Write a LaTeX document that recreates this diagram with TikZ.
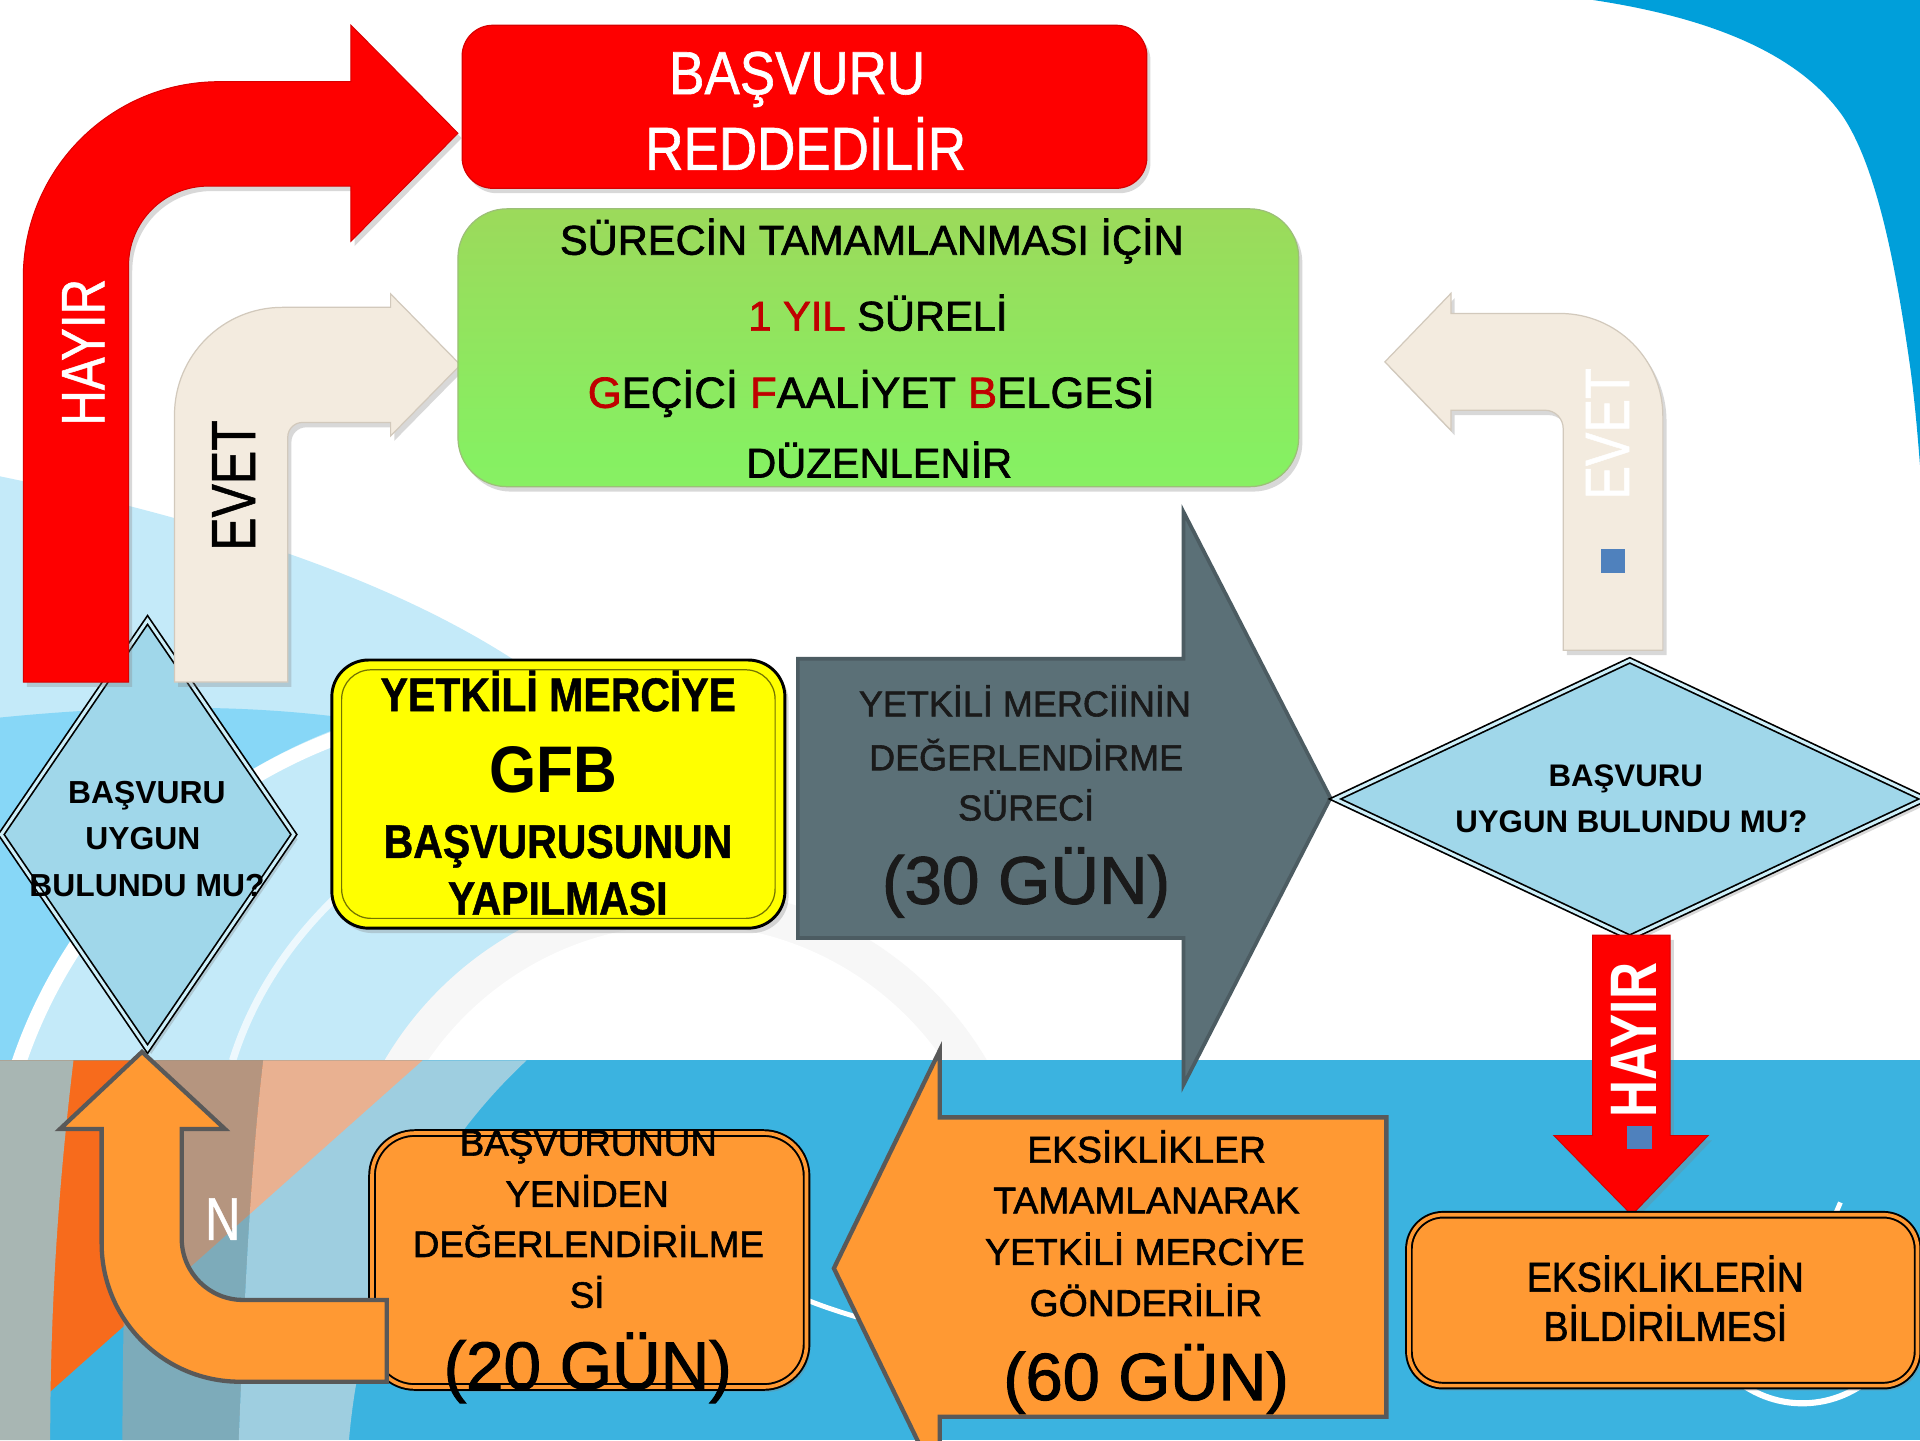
\documentclass[tikz,border=0pt]{standalone}
\usepackage{fontspec}
\setmainfont{Liberation Sans}
\newfontfamily\fnR[FakeBold=1.6]{Liberation Sans}
\newfontfamily\fnA[FakeStretch=0.87,FakeBold=1]{Liberation Sans}
\newfontfamily\fnB[FakeStretch=0.80,FakeBold=0.8]{Liberation Sans}
\newfontfamily\fnF[FakeStretch=0.90,FakeBold=1.6]{Liberation Sans}
\newfontfamily\fnG[FakeStretch=0.92]{Liberation Sans}
\newfontfamily\fnE[FakeStretch=0.78]{Liberation Sans}
\newcommand\fsz[1]{\fontsize{#1}{#1}\selectfont}
\usetikzlibrary{shadows,shapes.geometric}
\definecolor{redA}{HTML}{FE0000}
\definecolor{redB}{HTML}{D80000}
\definecolor{beige}{HTML}{F3EBDF}
\definecolor{beigeb}{HTML}{D2C9BC}
\definecolor{diaf}{HTML}{A0D7EA}
\definecolor{diad}{HTML}{CDEFF9}
\definecolor{yel}{HTML}{FFFF00}
\definecolor{slate}{HTML}{5B7077}
\definecolor{slateb}{HTML}{4C5C62}
\definecolor{org}{HTML}{FF9933}
\definecolor{orgb}{HTML}{595959}
\definecolor{band}{HTML}{3BB3E0}
\definecolor{topblue}{HTML}{009FDA}
\definecolor{lb}{HTML}{C4EAF9}
\definecolor{bb}{HTML}{87D7F7}
\definecolor{darkred}{HTML}{C00000}
\definecolor{sqblue}{HTML}{4F81BD}
\definecolor{ortri}{HTML}{F76B1C}
\definecolor{lgrey}{HTML}{A8B6B3}
\definecolor{midgrey}{HTML}{9AA8AA}
\definecolor{palegrey}{HTML}{E0E0E0}
\definecolor{ring}{HTML}{F7F7F7}
\definecolor{txtd}{HTML}{1A1A1A}
\definecolor{gA}{HTML}{DDF3CB}
\definecolor{gB}{HTML}{8DF068}
\definecolor{gC}{HTML}{86F062}
\definecolor{gD}{HTML}{A8CD57}
\definecolor{greenb}{HTML}{9CBF78}
\pgfdeclareverticalshading{greensh}{100bp}{color(0bp)=(gA); color(12bp)=(gB); color(30bp)=(gC); color(100bp)=(gD)}
\begin{document}
\begin{tikzpicture}[x=1pt,y=-1pt,
  txt/.style={anchor=base, inner sep=0pt, outer sep=0pt},
  vtxt/.style={rotate=90, inner sep=0pt, outer sep=0pt},
  shad/.style={drop shadow={shadow xshift=3pt, shadow yshift=-4pt, opacity=0.3}},
  redarrow/.style={fill=redA, draw=redB, line width=0.8pt, shad},
  beigearrow/.style={fill=beige, draw=beigeb, line width=1pt, shad},
  orgarrow/.style={fill=org, draw=orgb, line width=3.5pt, line join=miter},
  slatearrow/.style={fill=slate, draw=slateb, line width=3pt, line join=miter},
  diabox/.style={diamond, inner sep=0pt, fill=diaf, draw=black, line width=1.4pt, double=diad, double distance=2.5pt, shad},
  orgbox/.style={rectangle, inner sep=0pt, fill=org, draw=black, line width=1.6pt, double=org, double distance=3pt, shad},
]
\useasboundingbox (0,0) rectangle (1568,1176);
\clip (0,0) rectangle (1568,1176);
% ---------- background ----------
\fill[white] (0,0) rectangle (1568,1176);
\fill[topblue] (1301,0) .. controls (1400,15) and (1470,45) .. (1505,95) .. controls (1535,140) and (1550,230) .. (1560,300) .. controls (1564,330) and (1566,355) .. (1568,380) -- (1568,0) -- cycle;
\fill[lb] (0,389) .. controls (150,420) and (330,470) .. (450,560) .. controls (560,640) and (640,760) .. (690,866) -- (0,866) -- cycle;
\fill[bb] (0,586) .. controls (100,576) and (200,574) .. (295,588) .. controls (180,625) and (60,720) .. (12,866) -- (0,866) -- cycle;
\draw[white, line width=12pt] (300,594) .. controls (185,628) and (62,725) .. (14,872);
\draw[white, line width=6pt, opacity=0.7] (420,640) .. controls (300,690) and (220,770) .. (190,866);
\begin{scope}
  \clip (0,0) rectangle (1568,866);
  \fill[ring] (560,1010) circle (285);
  \fill[white] (560,1010) circle (255);
\end{scope}
\fill[band] (0,866) rectangle (1568,1176);
\fill[ortri] (0,866) -- (345,866) -- (0,1173) -- cycle;
\fill[lgrey] (0,866) -- (60,866) .. controls (50,950) and (41,1050) .. (41,1176) -- (0,1176) -- cycle;
\fill[midgrey, opacity=0.7] (110,866) -- (215,866) .. controls (205,950) and (200,1050) .. (195,1176) -- (100,1176) .. controls (100,1050) and (105,950) .. (110,866) -- cycle;
\fill[palegrey, opacity=0.6] (215,866) -- (430,866) .. controls (340,950) and (295,1060) .. (285,1176) -- (195,1176) .. controls (200,1050) and (205,950) .. (215,866) -- cycle;
\draw[white, line width=4pt] (648,1057) .. controls (668,1066) and (690,1073) .. (712,1079);
\draw[white, line width=5pt] (1472,1060) ++(30:86) arc (30:150:86);
\draw[white, line width=4pt] (1497,996) -- (1503,982);
% ---------- left decision ----------
\node[diabox, minimum width=239.6pt, minimum height=351pt] (dL) at (120.5,681.5) {};
% red bent arrow (HAYIR)
\path[redarrow] (19,557) -- (19,226.7) .. controls (19,138.4) and (90.7,66.7) .. (179,66.7) -- (286.6,66.7) -- (286.6,20.6) -- (374,108.8) -- (286.6,197) -- (286.6,152) -- (170,152) .. controls (134.1,152) and (105,181.1) .. (105,217) -- (105,557) -- cycle;
% beige bent arrow (EVET)
\path[beigearrow] (142.5,557) -- (142.5,339) .. controls (142.5,290.4) and (181.9,251) .. (230.5,251) -- (319,251) -- (319,240) -- (376,298) -- (319,356) -- (319,345) -- (247,345) .. controls (240.4,345) and (235,350.4) .. (235,357) -- (235,557) -- cycle;
% ---------- top boxes ----------
\node[rectangle, rounded corners=25pt, fill=redA, draw=redB, line width=1pt, minimum width=559.1pt, minimum height=133.1pt, inner sep=0pt, shad] (rej) at (657,87.2) {};
\node[rectangle, rounded corners=40pt, shading=greensh, draw=greenb, line width=1pt, minimum width=686.6pt, minimum height=226.9pt, inner sep=0pt, shad] (gfb) at (717.3,284) {};
% ---------- middle row ----------
\node[rectangle, rounded corners=30pt, fill=yel, draw=black, line width=2.4pt, minimum width=370pt, minimum height=219pt, inner sep=0pt, shad] (app) at (456,648.5) {};
\node[rectangle, rounded corners=24pt, draw=black!55!yel, line width=1pt, minimum width=354pt, minimum height=203pt, inner sep=0pt] (appin) at (456,648.5) {};
\path[slatearrow] (651.6,538) -- (966.5,538) -- (966.5,418) -- (1086.6,651.7) -- (966.5,886) -- (966.5,766) -- (651.6,766) -- cycle;
\coordinate (evaltip) at (1086.6,651.7);
\node[diabox, minimum width=482pt, minimum height=227pt] (dR) at (1331,652.5) {};
% right beige arrow (EVET)
\path[beigearrow] (1358,531) -- (1358,340) .. controls (1358,293.6) and (1320.4,256) .. (1274,256) -- (1185,256) -- (1185,239.5) -- (1131,295.5) -- (1185,351.5) -- (1185,335) -- (1261.6,335) .. controls (1269.9,335) and (1276.6,341.7) .. (1276.6,350) -- (1276.6,531) -- cycle;
\node[rectangle, fill=sqblue, minimum width=19.5pt, minimum height=20pt, inner sep=0pt] (sq1) at (1317.3,458) {};
% red down arrow (HAYIR)
\path[redarrow] (1300.6,763.6) -- (1364,763.6) -- (1364,927.3) -- (1395,927.3) -- (1332.6,992.2) -- (1269,927.3) -- (1300.6,927.3) -- cycle;
\node[rectangle, fill=sqblue, minimum width=20pt, minimum height=19pt, inner sep=0pt] (sq2) at (1339,929) {};
% ---------- bottom row ----------
\node[orgbox, rounded corners=28pt, minimum width=415.4pt, minimum height=139.6pt] (defic) at (1358.3,1061.8) {};
\path[orgarrow] (1132.2,912.5) -- (767.4,912.5) -- (767.4,858) -- (681,1035.8) -- (767.4,1213.6) -- (767.4,1157) -- (1132.2,1157) -- cycle;
\node[orgbox, rounded corners=35pt, minimum width=354.9pt, minimum height=207.4pt] (reeval) at (481.25,1029) {};
\path[orgarrow] (315.8,1128.4) -- (196,1128.4) .. controls (133.6,1128.4) and (83,1077.8) .. (83,1015.4) -- (83,922) -- (49,922) -- (116,859) -- (183.7,922) -- (148.4,922) -- (148.4,1011.6) .. controls (148.4,1039.2) and (170.8,1061.6) .. (198.4,1061.6) -- (315.8,1061.6) -- cycle;
% ---------- texts ----------
\node[txt, font=\fnA\fsz{49.7}, text=white] (rej1) at (651,76.9) {BAŞVURU};
\node[txt, font=\fnA\fsz{49.7}, text=white] (rej2) at (658,138.7) {REDDEDİLİR};
\node[txt, font=\fnR\fsz{34}] (g1) at (712,208) {SÜRECİN TAMAMLANMASI İÇİN};
\node[txt, font=\fnR\fsz{34}] (g2) at (717,270) {\textcolor{darkred}{1 YIL} SÜRELİ};
\node[txt, font=\fnR\fsz{35.6}] (g3) at (711.5,333) {\textcolor{darkred}{G}EÇİCİ \textcolor{darkred}{F}AALİYET \textcolor{darkred}{B}ELGESİ};
\node[txt, font=\fnR\fsz{34}] (g4) at (718,390) {DÜZENLENİR};
\node[vtxt, font=\fnB\fsz{50.3}, text=white] (hay1) at (68,287.7) {HAYIR};
\node[vtxt, font=\fnB\fsz{51}, text=black] (evet1) at (190.8,396.5) {EVET};
\node[vtxt, font=\fnB\fsz{51.3}, text=white] (evet2) at (1312.8,354.4) {EVET};
\node[vtxt, font=\fnE\bfseries\fsz{53.7}, text=white] (hay2) at (1334.6,849.6) {HAYIR};
\node[txt, font=\fnB\fsz{49.4}, text=white] (nlab) at (181.9,1012.6) {N};
\node[txt, font=\bfseries\fsz{26}] (dl1) at (120,656) {BAŞVURU};
\node[txt, font=\bfseries\fsz{26}] (dl2) at (116.7,694) {UYGUN};
\node[txt, font=\bfseries\fsz{26}] (dl3) at (120,732) {BULUNDU MU?};
\node[txt, font=\fnA\bfseries\fsz{38.5}] (y1) at (456,580.7) {YETKİLİ MERCİYE};
\node[txt, font=\fnG\bfseries\fsz{53.8}] (y2) at (452,647) {GFB};
\node[txt, font=\fnA\bfseries\fsz{38.5}] (y3) at (455.7,700.6) {BAŞVURUSUNUN};
\node[txt, font=\fnA\bfseries\fsz{38.5}] (y4) at (455.5,747) {YAPILMASI};
\node[txt, font=\fnR\fsz{29.4}, text=txtd] (s1) at (837,585) {YETKİLİ MERCİİNİN};
\node[txt, font=\fnR\fsz{29.4}, text=txtd] (s2) at (838,629) {DEĞERLENDİRME};
\node[txt, font=\fnR\fsz{29.4}, text=txtd] (s3) at (838,670) {SÜRECİ};
\node[txt, font=\fnR\fsz{55}, text=txtd] (s4) at (838,738) {(30 GÜN)};
\node[txt, font=\bfseries\fsz{25.5}] (dr1) at (1327.7,642.4) {BAŞVURU};
\node[txt, font=\bfseries\fsz{25.5}] (dr2) at (1332.3,679.9) {UYGUN BULUNDU MU?};
\node[txt, font=\fnF\fsz{34}] (e1) at (1360,1054.8) {EKSİKLİKLERİN};
\node[txt, font=\fnF\fsz{34}] (e2) at (1360,1095) {BİLDİRİLMESİ};
\node[txt, font=\fnR\fsz{30}] (r1) at (480.5,943.7) {BAŞVURUNUN};
\node[txt, font=\fnR\fsz{30}] (r2) at (479.5,985.5) {YENİDEN};
\node[txt, font=\fnR\fsz{30}] (r3) at (480.5,1026.5) {DEĞERLENDİRİLME};
\node[txt, font=\fnR\fsz{30}] (r4) at (479.5,1068) {Sİ};
\node[txt, font=\fnR\fsz{55}] (r5) at (480,1134.4) {(20 GÜN)};
\node[txt, font=\fnR\fsz{30.5}] (k1) at (936.4,949.5) {EKSİKLİKLER};
\node[txt, font=\fnR\fsz{30.5}] (k2) at (936.3,990.9) {TAMAMLANARAK};
\node[txt, font=\fnR\fsz{30.5}] (k3) at (935,1033) {YETKİLİ MERCİYE};
\node[txt, font=\fnR\fsz{30.5}] (k4) at (935.8,1074.7) {GÖNDERİLİR};
\node[txt, font=\fnR\fsz{54.5}] (k5) at (936,1143.3) {(60 GÜN)};
\end{tikzpicture}
\end{document}
